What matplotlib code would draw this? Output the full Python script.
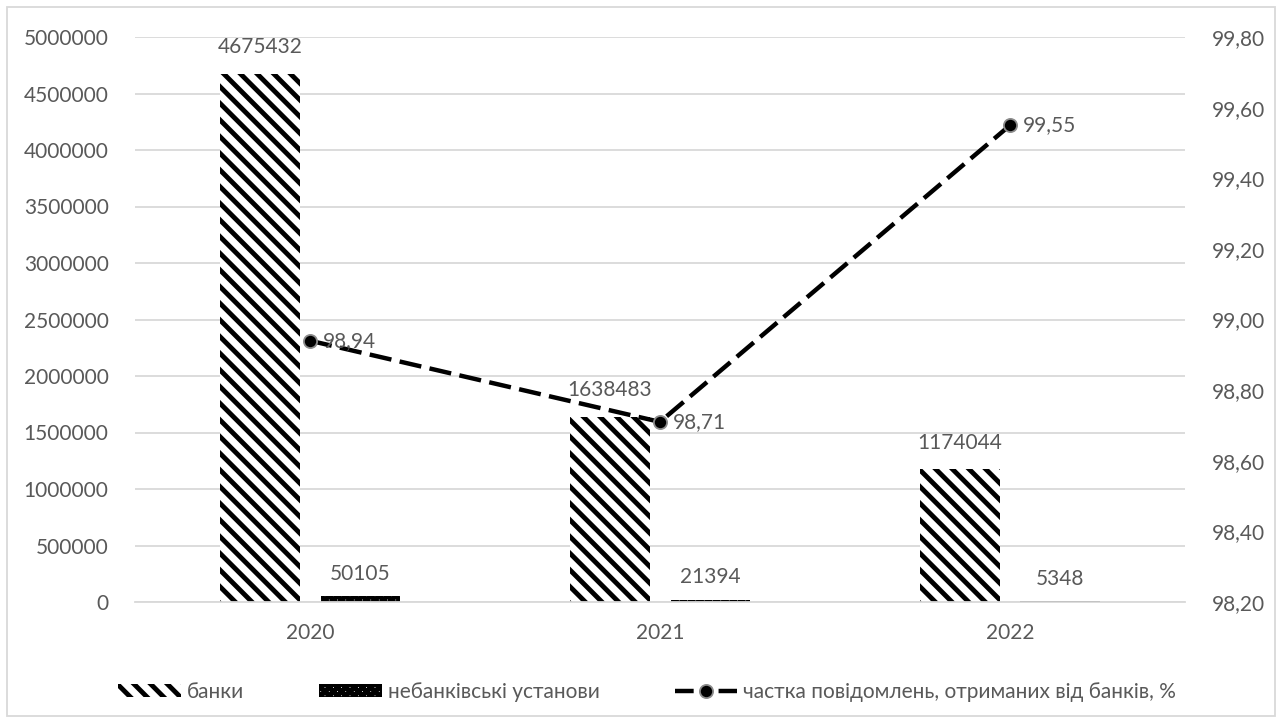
import matplotlib
matplotlib.use("Agg")
import matplotlib.pyplot as plt
import numpy as np
from matplotlib.ticker import FuncFormatter, MultipleLocator
from matplotlib.patches import Rectangle, Patch
from matplotlib.lines import Line2D

years = ["2020", "2021", "2022"]
banks = [4675432, 1638483, 1174044]
nonbanks = [50105, 21394, 5348]
share = [98.94, 98.71, 99.55]
share_labels = ["98,94", "98,71", "99,55"]
legend_labels = ["банки", "небанківські установи", "частка повідомлень, отриманих від банків, %"]

plt.rcParams['font.family'] = ['Lato', 'Roboto', 'DejaVu Sans']
plt.rcParams['hatch.linewidth'] = 3.5
plt.rcParams['hatch.color'] = 'black'
TXT = '#595959'
FS = 15

fig = plt.figure(figsize=(12.82, 7.22), dpi=100)
ax = fig.add_axes([135/1282, 1-602/722, 1050/1282, 565/722])
ax2 = ax.twinx()

x = np.arange(len(years))
w = 0.226
off = 0.143
ax.bar(x - off, banks, w, facecolor='white', edgecolor='black', linewidth=0, hatch='\\\\', zorder=2)
ax.bar(x + off, nonbanks, w, facecolor='white', edgecolor='black', linewidth=0, hatch='xxxx', zorder=2)

ax.set_xlim(-0.5, 2.5)
ax.set_ylim(0, 5000000)
ax.yaxis.set_major_locator(MultipleLocator(500000))
ax.yaxis.set_major_formatter(FuncFormatter(lambda v, p: f"{int(v)}"))
ax.set_xticks(x)
ax.set_xticklabels(years)
ax.grid(axis='y', color='#d9d9d9', linewidth=1.3, zorder=0)
ax.set_axisbelow(True)
for s in ax.spines.values():
    s.set_visible(False)
for s in ax2.spines.values():
    s.set_visible(False)
ax.spines['bottom'].set_visible(True)
ax.spines['bottom'].set_color('#d9d9d9')
ax.spines['bottom'].set_linewidth(1.3)
ax.tick_params(axis='both', length=0, labelsize=FS, labelcolor=TXT)
ax.tick_params(axis='y', pad=19)
ax.tick_params(axis='x', pad=15)

for xi, v in zip(x, banks):
    ax.annotate(str(v), (xi - off, v), xytext=(0, 19), textcoords='offset points',
                ha='center', va='center', fontsize=FS, color=TXT, zorder=5)
for xi, v in zip(x, nonbanks):
    ax.annotate(str(v), (xi + off, v), xytext=(0, 16), textcoords='offset points',
                ha='center', va='center', fontsize=FS, color=TXT, zorder=5)

ax2.set_ylim(98.2, 99.8)
ax2.yaxis.set_major_locator(MultipleLocator(0.2))
ax2.yaxis.set_major_formatter(FuncFormatter(lambda v, p: f"{v:.2f}".replace('.', ',')))
ax2.tick_params(axis='y', length=0, labelsize=FS, labelcolor=TXT, pad=19)
ax2.plot(x, share, color='black', linewidth=3.2, linestyle=(0, (5, 1.9)),
         marker='o', markersize=9.5, markerfacecolor='black', markeredgecolor='#8c8c8c',
         markeredgewidth=1.3, zorder=4)
for xi, v, lab in zip(x, share, share_labels):
    ax2.annotate(lab, (xi, v), xytext=(9, 0), textcoords='offset points',
                 ha='left', va='center', fontsize=FS, color=TXT, zorder=5)

handles = [
    Patch(facecolor='white', edgecolor='black', linewidth=0, hatch='\\\\'),
    Patch(facecolor='white', edgecolor='black', linewidth=0, hatch='xxxx'),
    Line2D([0], [0], color='black', linewidth=3.2, linestyle=(0, (4.2, 5.6)), marker='o',
           markersize=9.5, markerfacecolor='black', markeredgecolor='#8c8c8c', markeredgewidth=1.3),
]
leg = fig.legend(handles, legend_labels, loc='center left', bbox_to_anchor=(118/1282, 1-692/722),
                 ncol=3, frameon=False, fontsize=FS, labelcolor=TXT, handlelength=3.0,
                 handleheight=0.55, columnspacing=3.6, handletextpad=0.3, borderaxespad=0,
                 borderpad=0)

fig.patches.append(Rectangle((7/1282, 1-716/722), 1268/1282, 709/722, transform=fig.transFigure,
                             fill=False, edgecolor='#d9d9d9', linewidth=1.3))

fig.savefig("out.png", dpi=100)
